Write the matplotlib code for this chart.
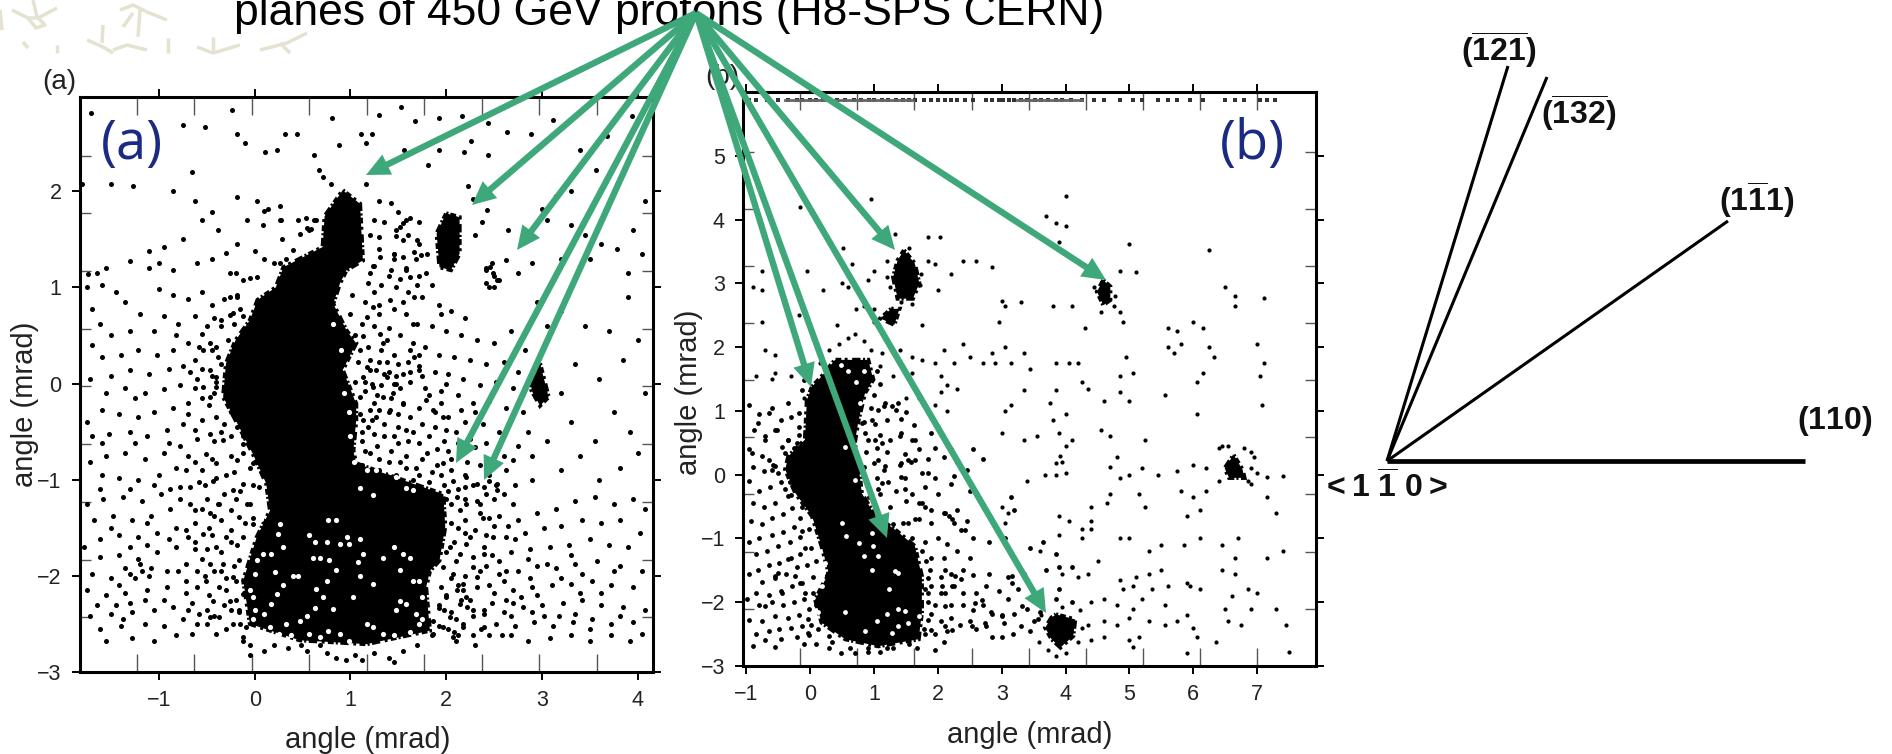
import matplotlib
matplotlib.use('Agg')
import matplotlib.pyplot as plt
import numpy as np

plt.rcParams['font.family'] = ['Liberation Sans', 'DejaVu Sans']
plt.rcParams['mathtext.fontset'] = 'custom'
plt.rcParams['mathtext.rm'] = 'Liberation Sans:bold'
plt.rcParams['mathtext.bf'] = 'Liberation Sans:bold'

W, H = 1892, 754

# ---- panel (a), angles in mrad ----
a_blob_main = [(0.92,2.01),(1.1,1.87),(1.13,1.28),(0.96,1.18),(0.89,1.04),(0.82,0.83),(0.96,0.55),(1.06,0.42),(0.92,0.14),(1.06,-0.21),
               (1.06,-0.38),(1.03,-0.7),(1.06,-0.83),(1.65,-1.04),(1.97,-1.15),(1.99,-1.49),(1.93,-1.84),(1.83,-1.95),(1.79,-2.12),(1.83,-2.57),
               (1.17,-2.71),(0.47,-2.67),(-0.05,-2.5),(-0.12,-2.05),(0.02,-1.6),(0.16,-1.32),(0.12,-1.04),(-0.02,-0.73),(-0.2,-0.38),(-0.33,-0.14),
               (-0.3,0.21),(-0.2,0.45),(-0.05,0.66),(0.03,0.87),(0.22,1.0),(0.3,1.21),(0.71,1.42),(0.73,1.74)]
a_blob_2 = [(2.0,1.77),(2.14,1.73),(2.14,1.35),(2.05,1.18),(1.93,1.21),(1.9,1.56)]
a_blob_3 = [(2.98,0.21),(3.07,-0.14),(2.98,-0.23),(2.89,-0.07),(2.9,0.07)]
a_holes = [(0.07,-1.41),(0.24,-1.56),(0.26,-1.46),(0.57,-1.58),(0.63,-1.65),(0.77,-1.42),(0.85,-1.42),(0.75,-1.65),(0.89,-1.67),(0.99,-1.67),
           (1.1,-1.62),(1.13,-1.77),(1.08,-1.86),(1.1,-2.0),(1.45,-1.7),(1.34,-1.81),(1.55,-1.77),(1.62,-1.81),(0.78,-1.84),(0.85,-1.94),(0.4,-2.0),
           (0.45,-2.0),(0.64,-2.14),(0.3,-2.1),(0.23,-2.19),(0.17,-2.29),(0.0,-1.98),(0.21,-1.96),(0.63,-2.33),(0.82,-2.34),(0.75,-2.05),(1.24,-2.08),
           (1.03,-2.22),(1.52,-1.94),(1.65,-2.05),(0.71,-2.22),(1.52,-2.26),(1.48,-2.36),(1.58,-2.29),(0.77,-2.57),(0.89,-2.6),(0.33,-2.5),(0.16,-2.53),
           (1.17,-2.5),(1.24,-2.53),(1.34,-2.6),(0.57,-2.6),(0.68,-2.64),(0.47,-2.47),(0.02,-1.84),(-0.05,-2.15),(-0.02,-2.22),(0.17,-1.77),(0.09,-1.77),
           (0.3,-1.7),(0.0,-2.36),(0.96,-1.6),(0.61,-1.81),(0.68,-1.81),(1.17,-0.9),(1.27,-0.9),(1.41,-0.92),(1.58,-1.09),(1.65,-1.11),(1.1,-1.09),
           (1.04,-0.82),(1.24,-1.16),(1.48,-0.97),(1.68,-2.4),(1.75,-2.22),(1.72,-2.5),(0.98,-2.68),(1.45,-2.62),(0.1,-2.4),(0.25,-2.6),(-0.02,-2.45),
           (1.0,-0.55),(0.98,-0.3),(1.0,0.1),(0.9,0.35),(0.82,0.62),(0.93,-0.1),(1.75,-2.45),(1.62,-2.58),(0.55,-2.42),(0.38,-2.62),(1.72,-2.05)]
a_top = [(-1.71,2.81),(-1.5,2.08),(-1.8,2.08),(-1.27,2.05),(-0.75,2.69),(-0.52,2.67),(-0.24,2.85),(-0.19,2.6),(-0.1,2.5),
         (0.11,2.41),(0.23,2.43),(0.32,2.6),(0.44,2.6),(0.62,2.38),(0.67,2.22),(0.81,2.76),(1.11,2.6),(1.23,2.6),(1.16,2.5),
         (0.88,2.48),(1.3,2.79),(1.53,2.88),(1.67,2.73),(1.93,2.76),(2.16,2.78),(2.44,2.71),(2.63,2.62),(2.89,2.6),(3.12,2.74),
         (3.4,2.43),(3.56,2.22),(3.68,2.57),(3.94,2.78),(2.44,2.38),(2.19,2.41),(2.26,2.52),(1.81,2.27),(1.93,2.43),(1.56,2.43),
         (0.71,2.15),(0.8,2.08),(1.16,2.08),(-0.65,2.2),(-0.85,2.0),(-0.62,1.9),(-0.18,1.94),(0.02,1.9),(0.14,1.82),(0.26,1.85),
         (-0.45,1.78),(-0.55,1.7),(-0.38,1.6),(-0.08,1.7),(0.09,1.65),(0.27,1.7),(0.45,1.7),(0.55,1.62),(0.62,1.7),(0.28,1.5),
         (-0.75,1.5),(-0.95,1.42),(-1.1,1.38),(-1.3,1.27),(-1.55,1.2),(-1.65,1.15),(-1.74,1.14),(-1.1,1.2),(-1.0,1.25),(-0.85,1.18),
         (-0.6,1.25),(-0.45,1.3),(-0.3,1.36),(-0.18,1.45),(0.0,1.38),(0.1,1.3),(0.2,1.25),(-0.2,1.15),(-0.05,1.1),
         (1.3,1.9),(1.42,1.88),(1.5,1.78),(1.62,1.72),(1.72,1.68),(1.25,1.7),(1.35,1.68),(1.48,1.6),(1.6,1.55),(1.72,1.45),(1.3,1.4),
         (1.45,1.35),(1.55,1.32),(1.68,1.3),(1.8,1.35),(2.3,1.55),(2.37,1.68),(2.43,1.8),(2.28,1.92),(2.23,2.05),(2.65,1.6),(2.85,1.5),
         (3.0,1.82),(3.15,1.95),(3.3,1.65),(3.45,1.55),(3.62,1.45),(3.78,1.4),(3.95,1.6),(4.05,1.35),(3.3,2.0),(3.05,1.7),(2.9,1.25),
         (2.75,1.15),(3.2,1.3),(3.5,1.3),(3.9,1.15),(4.08,1.9),(2.62,1.28),(2.48,1.25),(2.42,1.18),(2.5,1.12),(2.42,1.05),(2.5,1.0),(2.45,1.0),(2.55,1.08)]
a_left = [(-1.75,1.0),(-1.6,1.02),(-1.45,0.95),(-1.35,0.85),(-1.7,0.78),(-1.2,0.72),(-1.0,0.98),(-0.85,0.92),(-0.7,0.88),(-0.55,0.95),
          (-0.45,0.82),(-0.32,0.88),(-0.15,0.78),(-0.22,0.62),(-0.35,0.6),(-0.5,0.6),(-0.62,0.7),(-0.8,0.62),(-1.05,0.55),(-1.3,0.55),
          (-1.5,0.5),(-1.7,0.4),(-1.6,0.28),(-1.4,0.3),(-1.22,0.35),(-1.02,0.3),(-0.85,0.35),(-0.7,0.42),(-0.58,0.38),(-0.45,0.35),(-0.38,0.28),
          (-0.62,0.25),(-0.75,0.18),(-0.9,0.15),(-1.1,0.1),(-1.3,0.14),(-1.5,0.08),(-1.72,0.05),(-1.55,-0.1),(-1.35,-0.05),(-1.15,-0.1),(-0.95,-0.06),
          (-0.78,-0.02),(-0.6,0.05),(-0.45,0.08),(-0.42,-0.1),(-0.55,-0.15),(-0.7,-0.2),(-0.85,-0.25),(-1.05,-0.3),(-1.22,-0.35),(-1.42,-0.32),(-1.6,-0.28),
          (-1.75,-0.4),(-1.7,-0.55),(-1.52,-0.52),(-1.3,-0.5),(-1.12,-0.55),(-0.92,-0.48),(-0.75,-0.42),(-0.55,-0.38),(-0.4,-0.35),(-0.32,-0.42),(-0.25,-0.55),
          (-0.42,-0.6),(-0.6,-0.58),(-0.78,-0.65),(-0.95,-0.72),(-1.15,-0.78),(-1.35,-0.72),(-1.55,-0.75),(-1.72,-0.82),(-1.6,-0.95),(-1.42,-0.98),(-1.22,-1.0),
          (-1.0,-0.95),(-0.82,-0.88),(-0.62,-0.82),(-0.45,-0.78),(-0.25,-0.75),(-0.12,-0.72),(-0.05,-0.88),(-0.22,-0.92),(-0.4,-0.98),(-0.58,-1.02),(-0.78,-1.08),
          (-0.98,-1.15),(-1.18,-1.22),(-1.38,-1.18),(-1.58,-1.2),(-1.75,-1.25),(-1.68,-1.42),(-1.48,-1.38),(-1.28,-1.42),(-1.08,-1.38),(-0.88,-1.3),(-0.68,-1.25),
          (-0.5,-1.2),(-0.32,-1.15),(-0.15,-1.12),(-0.02,-1.05),(-0.08,-1.25),(-0.25,-1.32),(-0.42,-1.38),(-0.62,-1.45),(-0.82,-1.5),(-1.02,-1.55),(-1.22,-1.6),
          (-1.42,-1.58),(-1.62,-1.62),(-1.78,-1.7),(-1.62,-1.8),(-1.42,-1.78),(-1.22,-1.82),(-1.02,-1.75),(-0.82,-1.7),(-0.62,-1.65),(-0.45,-1.58),(-0.25,-1.52),
          (-0.1,-1.45),(-0.02,-1.4),(-0.18,-1.68),(-0.35,-1.75),(-0.55,-1.82),(-0.72,-1.88),(-0.92,-1.95),(-1.1,-2.0),(-1.18,-1.95),(-1.3,-1.98),(-1.5,-2.02),(-1.7,-1.98),
          (-1.75,-2.15),(-1.55,-2.2),(-1.35,-2.18),(-1.12,-2.15),(-0.92,-2.12),(-0.72,-2.05),(-0.52,-2.0),(-0.35,-1.95),(-0.22,-1.9),(-0.2,-2.05),(-0.3,-2.15),
          (-0.48,-2.2),(-0.65,-2.28),(-0.85,-2.32),(-1.05,-2.35),(-1.28,-2.38),(-1.5,-2.4),(-1.72,-2.42),(-1.62,-2.55),(-1.4,-2.52),(-1.15,-2.5),(-0.95,-2.52),
          (-0.75,-2.45),(-0.58,-2.4),(-0.42,-2.42),(-0.25,-2.35),(-0.15,-2.5),(-0.3,-2.55),(-0.12,-2.68),(-0.05,-2.72),(0.1,-2.78),(-1.55,-2.68),(-1.28,-2.65),(-1.05,-2.68),
          (-0.65,-2.6),(-0.2,-2.25),(-0.16,-2.38),(-0.38,-1.25),(-0.52,-1.05),(-0.18,-0.45),(-0.12,-0.55),(-0.48,-0.22),(-0.4,0.02),(-0.55,0.15),(-0.28,0.45),(-0.12,0.7),
          (-0.02,0.65),(-0.18,0.9),(-0.7,-0.75),(-1.25,-0.15),(-1.62,0.62),(-0.95,0.7)]
a_left_2 = [(-0.47,-0.52),(-0.51,-0.73),(-0.33,-0.59),(-0.12,-0.63),(-0.02,-0.83),(-0.19,-0.8),(-0.4,-0.83),(-0.12,-1.04),(0.05,-1.08),(-0.23,-1.11),(-0.44,-1.01),(-0.05,-1.25),
            (-0.37,-1.25),(-0.16,-1.39),(-0.02,-1.46),(-0.47,-1.35),(-0.3,-1.6),(-0.12,-1.6),(-0.4,-1.7),(-0.54,-1.56),(-0.33,-1.88),(-0.16,-1.84),(-0.47,-1.88),(-0.23,-2.01),(-0.37,-2.12),
            (-0.12,-2.19),(-0.51,-2.05),(-0.26,-2.26),(-0.44,-2.26),(-0.16,-2.36),(-0.37,-2.43),(-0.23,-2.5),(-0.47,-2.43),(-0.09,-2.53),(-0.12,-2.64),(-0.4,-2.6),
            (-0.26,1.15),(-0.12,1.08),(0.02,1.11),(-0.18,0.92),(-0.26,0.9),(-0.26,0.71),(-0.35,0.66),(-0.23,0.73),(-0.47,0.42),(-0.54,0.35),(-0.4,0.38),(-0.23,0.35),(-0.47,0.14),(-0.4,0.07),(-0.54,-0.04),
            (-0.47,-0.14),(-0.4,-0.04),(0.54,1.72),(0.64,1.7),(0.59,1.61),(0.26,1.7),(0.1,1.79),(0.47,1.56),(0.57,1.6),(0.4,1.39),(0.26,1.25),(0.33,1.3),
            (-0.72,-1.52),(-0.9,-1.62),(-1.12,-1.68),(-1.35,-1.92),(-1.25,-2.02),(-1.2,-1.88),(-1.42,-2.1),(-1.08,-1.92),(-0.78,-1.2),(-1.05,-1.05),(-1.3,-1.1),(-0.72,-2.18),(-0.95,-2.25),(-0.6,-2.5),(-0.82,-2.62),
            (-0.62,-1.32),(-0.48,-1.5),(-0.62,-1.72),(-0.8,-1.95),(-0.6,-2.12),(-0.7,-0.32),(-0.9,-0.62),(-0.62,-0.48),(-1.25,-0.62),(-1.6,-0.62),(-1.62,-1.1),(-1.5,-1.5),(-1.65,-2.3),(-1.3,-2.28),
            (-0.55,-0.9),(-0.3,-0.95),(-0.68,-1.08),(-0.2,-1.2),(-0.55,-1.3),(-0.35,-1.42),(-0.7,-1.6),(-0.5,-1.72),(-0.25,-1.65),(-0.42,-1.95),(-0.6,-1.95),(-0.3,-2.02),(-0.5,-2.35),(-0.32,-2.3),(-0.7,-2.35),(-0.5,-2.5),
            (-0.72,-0.9),(-0.88,-1.1),(-1.12,-1.45),(-1.3,-1.7),(-1.15,-2.25),(-1.38,-2.45),(-0.25,-0.3),(-0.35,-0.5),(-0.62,-0.05),(-0.68,0.12),(-0.35,0.2),(-0.28,0.05),(-0.82,0.5),(-0.55,0.52),(-0.42,0.68),(-1.45,-2.3)]
a_mid = [(1.2,1.55),(1.3,1.52),(1.25,1.22),(1.42,1.18),(1.58,1.2),(1.72,1.12),(1.85,1.02),(1.18,1.05),(1.32,1.02),(1.48,1.0),(1.6,0.95),(1.75,0.9),(1.92,0.82),
       (2.05,0.75),(2.2,0.68),(1.02,0.92),(1.15,0.85),(1.3,0.82),(1.45,0.78),(1.58,0.72),(1.7,0.62),(1.85,0.6),(2.0,0.55),(2.15,0.5),(2.32,0.45),(2.5,0.42),(2.68,0.55),
       (2.82,0.35),(1.0,0.72),(1.12,0.62),(1.25,0.6),(1.4,0.58),(1.52,0.5),(1.65,0.42),(1.78,0.38),(1.92,0.3),(2.08,0.28),(2.25,0.25),(2.42,0.2),(2.6,0.22),(2.75,0.12),
       (1.05,0.5),(1.18,0.38),(1.32,0.35),(1.45,0.3),(1.6,0.22),(1.72,0.18),(1.88,0.12),(2.02,0.1),(2.18,0.05),(2.35,-0.02),(2.52,0.02),(2.7,-0.05),(1.08,0.22),(1.2,0.14),
       (1.35,0.1),(1.48,0.08),(1.62,0.02),(1.78,-0.05),(1.95,-0.08),(2.12,-0.12),(2.28,-0.2),(2.45,-0.18),(2.62,-0.25),(2.8,-0.3),(1.05,0.02),(1.15,-0.08),(1.28,-0.12),(1.42,-0.15),
       (1.55,-0.2),(1.72,-0.25),(1.88,-0.3),(2.02,-0.35),(2.2,-0.4),(2.38,-0.42),(2.55,-0.5),(1.1,-0.32),(1.22,-0.38),(1.35,-0.42),(1.5,-0.45),(1.65,-0.5),(1.82,-0.55),(1.98,-0.6),
       (2.12,-0.62),(2.3,-0.66),(1.12,-0.6),(1.28,-0.65),(1.42,-0.7),(1.58,-0.75),(1.75,-0.78),(1.9,-0.85),(2.05,-0.9),(2.2,-0.95),(1.12,-0.85),(1.3,-0.9),(1.48,-0.95),(1.65,-1.0),
       (1.82,-1.02),(1.98,-1.05),(2.12,-1.1),(2.05,-0.78),(2.22,-0.82),(1.3,0.72),(1.55,0.85),(1.38,0.45),(1.22,0.0),(1.4,-0.3),(1.62,-0.35),(1.5,0.2),(1.25,-0.2),(1.35,-0.55),(1.72,0.3),(2.0,0.0),(1.18,-0.45),
       (1.4,0.12),(1.45,0.0),(1.32,-0.02),(1.52,-0.05),(1.62,0.12),(1.2,-0.72),(1.4,-0.82),(1.58,-0.88),(2.35,-0.85),(2.45,-0.95),(2.4,-1.08),(2.52,-1.05),(2.28,-1.05)]
a_mid_2 = [(1.55,1.67),(1.585,1.7),(1.52,1.63),(1.48,1.53),(1.55,1.49),(1.69,1.49),(1.66,1.37),(1.74,1.34),(1.46,1.3),(1.45,1.35),(1.31,1.32),(1.24,1.22),(1.2,1.15),(1.58,1.18),(1.62,1.11),(1.79,1.15),(1.52,1.09),
           (1.17,0.17),(1.27,0.14),(1.38,0.07),(1.48,0.0),(1.13,0.07),(1.24,-0.04),(1.34,-0.14),(1.44,-0.1),(1.55,-0.21),(1.1,-0.14),(1.2,-0.28),(1.27,-0.35),(1.41,-0.28),(1.13,-0.38),(1.72,0.14),(1.79,-0.17),(1.86,-0.28),(1.97,-0.35),
           (1.66,0.28),(1.62,0.35),(1.34,0.42),(1.31,0.52),(1.13,0.49),(1.1,0.35),(1.24,0.8),(1.41,0.87),(1.17,0.69),(1.66,0.9),(2.46,1.21),(2.49,1.15),(2.42,1.2),(2.53,1.08),
           (1.3,-0.28),(1.5,-0.32),(1.6,-0.6),(1.72,-0.62),(1.5,-0.62),(1.3,-0.78),(1.68,-0.88),(1.85,-0.92),(1.9,-0.68),(2.1,-0.5),(2.25,-0.58),(2.42,-0.62),(2.5,-0.75),(2.62,-0.9),(2.7,-0.8),(2.15,-0.28),(2.3,-0.3),(1.95,-0.2),(1.82,-0.12),
           (1.2,0.25),(1.38,0.22),(1.55,0.1),(1.75,0.08),(1.25,-0.52),(1.15,-0.7),(1.1,-0.95),(1.22,-1.02),(1.42,-1.05),(1.75,-1.1),(1.85,-1.15),(2.02,-1.12),(2.2,-1.08),(2.6,-1.15),(2.72,-1.05),
           (1.75,-0.42),(1.88,-0.45),(2.0,-0.48),(1.58,-0.48),(1.45,-0.55),(1.8,-0.72),(2.02,-0.7),(2.15,-0.72),(1.95,-0.95),(1.72,-0.95),(1.52,-0.82),(1.25,-0.92),(1.12,-0.5),(1.15,0.02),(1.3,0.22),(1.65,0.62),(1.95,0.72),(1.25,0.95),(1.4,1.12),(1.7,1.02)]
a_right = [(2.05,-1.25),(2.2,-1.2),(2.35,-1.25),(2.5,-1.2),(2.7,-1.25),(2.05,-1.45),(2.2,-1.42),(2.38,-1.4),(2.55,-1.38),(2.75,-1.42),(2.95,-1.35),(3.15,-1.3),(3.35,-1.22),(3.55,-1.18),(3.75,-1.25),(3.95,-1.2),
         (4.08,-1.3),(2.08,-1.65),(2.25,-1.6),(2.42,-1.58),(2.62,-1.6),(2.82,-1.55),(3.02,-1.5),(3.2,-1.48),(3.42,-1.42),(3.62,-1.45),(3.82,-1.42),(4.02,-1.55),(2.1,-1.85),(2.28,-1.8),(2.48,-1.78),(2.68,-1.75),
         (2.88,-1.72),(3.08,-1.7),(3.28,-1.68),(3.5,-1.62),(3.7,-1.68),(3.9,-1.7),(2.05,-2.02),(2.2,-2.0),(2.35,-1.95),(2.55,-1.98),(2.75,-1.95),(2.95,-1.9),(3.15,-1.92),(3.35,-1.88),(3.58,-1.85),(3.82,-1.9),(4.05,-1.95),
         (2.0,-2.2),(2.18,-2.15),(2.32,-2.12),(2.5,-2.18),(2.7,-2.15),(2.9,-2.12),(3.1,-2.1),(3.3,-2.08),(3.52,-2.05),(3.72,-2.1),(3.95,-2.12),(2.05,-2.38),(2.22,-2.32),(2.4,-2.35),(2.6,-2.38),(2.8,-2.32),(3.0,-2.3),
         (3.22,-2.28),(3.42,-2.25),(3.62,-2.3),(3.85,-2.32),(4.08,-2.35),(2.02,-2.55),(2.18,-2.5),(2.36,-2.55),(2.52,-2.5),(2.72,-2.52),(2.92,-2.48),(3.12,-2.52),(3.32,-2.48),(3.52,-2.45),(3.72,-2.5),(3.95,-2.48),
         (2.1,-2.68),(2.3,-2.72),(2.68,-2.62),(2.85,-2.68),(3.08,-2.65),(3.3,-2.62),(3.5,-2.68),(3.72,-2.62),(3.92,-2.68),(4.05,-2.6),(3.2,-0.9),(3.4,-0.75),(3.6,-1.0),(3.82,-0.88),(4.0,-0.72),(2.9,-1.0),(3.05,-0.6),
         (3.3,-0.4),(3.55,-0.6),(3.75,-0.3),(3.92,-0.5),(4.08,-0.1),(3.2,-0.1),(3.35,0.2),(3.6,0.05),(3.85,0.25),(4.0,0.45),(3.45,0.6),(3.7,0.55),(3.2,0.75),(3.05,0.6),(2.95,0.85),(3.9,0.9),(2.6,-0.75),(2.75,-0.65),
         (2.85,-0.5),(2.9,-0.75),(2.2,-1.55),(2.12,-2.1),(2.25,-2.25),(2.1,-2.45),(1.98,-2.35),(2.08,-2.58),(2.28,-2.42),(2.15,-2.25),(2.0,-1.75),(2.4,-1.7),(2.62,-2.25),(3.35,-2.4),(3.82,-2.42)]
a_right_2 = [(2.0,-1.2),(2.11,-1.18),(2.21,-1.25),(2.32,-1.22),(2.42,-1.15),(2.53,-1.11),(2.14,-1.32),(2.35,-1.35),(2.07,-1.01),(2.21,-0.97),(1.97,-0.83),(2.32,-1.04),(2.45,-1.01),(2.53,-1.04),
             (2.04,-1.7),(2.14,-1.77),(2.21,-1.67),(2.28,-1.91),(2.39,-1.77),(2.49,-1.6),(1.97,-1.91),(2.07,-1.98),(2.18,-2.08),(2.32,-2.01),(2.11,-2.15),(2.21,-2.22),(2.0,-2.22),(1.93,-2.33),(2.14,-2.29),(2.28,-2.36),(2.39,-2.4),
             (2.04,-2.43),(1.86,-2.47),(1.97,-2.53),(2.18,-2.53),(2.39,-2.53),(1.86,-2.6),(2.07,-2.64),(2.45,-2.1),(2.6,-2.05),(2.78,-2.22),(2.45,-1.4),(2.65,-1.48),(2.85,-1.82),(3.05,-1.88),(2.95,-2.2),(3.2,-2.02),(3.4,-2.18),(2.68,-2.42),(3.18,-2.42),(3.5,-2.55),
             (2.12,-1.5),(2.3,-1.52),(2.5,-1.48),(2.72,-1.62),(2.55,-1.85),(2.42,-1.9),(2.62,-1.95),(2.88,-2.02),(2.48,-2.28),(2.7,-2.28),(2.9,-2.38),(2.12,-2.62),(2.28,-2.62),(2.45,-2.62),(2.58,-2.62),(3.02,-2.42),(3.42,-1.98),(3.3,-1.78),(3.75,-1.95),(3.62,-2.18)]
a_bottom = [(0.35,-2.75),(0.55,-2.78),(0.75,-2.8),(0.85,-2.85),(1.05,-2.82),(1.25,-2.8),(1.4,-2.85),(1.55,-2.78),(1.7,-2.72),(1.85,-2.62),(1.92,-2.52),(0.2,-2.72),(-0.05,-2.82),(0.95,-2.88),
            (1.45,-2.9),(1.12,-2.88),(1.78,-2.55),(1.92,-2.3),(1.95,-2.12),(0.48,-2.72),(0.68,-2.72)]

# ---- panel (b) ----
b_blob_main = [(0.03,1.38),(0.18,1.54),(0.39,1.8),(0.91,1.8),(0.99,1.49),(0.86,1.28),(0.76,0.86),(0.7,0.5),(0.76,0.13),(0.81,-0.29),(1.02,-0.65),(1.33,-0.86),(1.64,-1.12),(1.75,-1.59),
               (1.75,-2.16),(1.7,-2.58),(1.07,-2.69),(0.55,-2.58),(0.18,-2.32),(0.08,-1.96),(0.29,-1.54),(0.18,-1.12),(0.03,-0.65),(-0.23,-0.29),(-0.39,0.08),(-0.34,0.29),(-0.08,0.55),(-0.05,1.17)]
b_blob_1 = [(1.47,3.52),(1.64,3.31),(1.71,3.0),(1.61,2.76),(1.37,2.76),(1.3,3.1),(1.37,3.36)]
b_blob_tail = [(1.27,2.6),(1.1,2.45),(1.32,2.35),(1.4,2.6)]
b_blob_2 = [(4.59,3.05),(4.7,2.95),(4.7,2.74),(4.59,2.66),(4.49,2.87)]
b_blob_3 = [(3.85,-2.19),(4.15,-2.27),(4.12,-2.53),(3.92,-2.71),(3.78,-2.58),(3.68,-2.4),(3.78,-2.24)]
b_blob_4 = [(6.63,0.31),(6.77,0.08),(6.8,-0.05),(6.56,-0.05),(6.49,0.1)]
b_holes = [(0.7,-0.08),(0.55,0.44),(0.78,1.12),(0.5,-0.76),(0.57,-0.96),(0.76,-1.07),(0.97,-0.91),(0.99,-1.12),(0.84,-1.28),(1.07,-1.28),(1.33,-1.51),(1.38,-1.54),(0.97,-1.49),(1.23,-1.8),(0.18,-1.59),(0.18,-1.75),(0.24,-1.38),
           (1.38,-2.11),(1.49,-2.14),(1.2,-2.19),(1.04,-2.29),(1.54,-2.32),(1.7,-2.22),(0.55,-2.16),(1.38,-2.37),(0.13,-2.16),(0.86,-2.45),(1.28,-2.48),(0.72,1.45),(0.6,1.62),(0.85,1.62),(0.48,1.72)]
b_top_row = [-0.95,-0.85,-0.68,-0.5,-0.35,-0.2,-0.12,0.0,0.1,0.2,0.3,0.42,0.55,0.68,0.8,0.92,1.0,1.12,1.22,1.34,1.46,1.55,1.65,1.78,1.9,2.0,2.12,2.2,2.3,2.42,2.55,2.75,2.85,2.95,3.02,3.12,3.2,3.3,3.4,3.52,3.62,3.72,3.85,
             3.95,4.08,4.25,4.45,4.6,4.85,5.05,5.2,5.45,5.6,5.75,5.95,6.15,6.5,6.65,6.8,7.05,7.15,7.28]
b_top_bars = [(-0.39, 1.61), (3.24, 4.25)]
b_far = [(2.85,3.25),(4.0,3.9),(3.9,3.65),(3.7,4.05),(3.85,3.95),(4.0,4.37),(-0.15,4.2),(0.72,4.23),(0.95,4.32),(1.33,3.77),(1.85,3.73),(2.03,3.72),(5.0,3.62),(6.25,3.53),(3.8,2.65),(3.0,2.72),(2.0,2.9),(2.4,3.35),(2.6,3.35),
         (2.2,3.15),(4.85,3.2),(5.1,3.18),(5.6,2.3),(5.75,2.25),(5.8,2.05),(6.0,2.4),(6.15,2.3),(6.5,2.95),(6.65,2.8),(6.65,2.65),(7.1,2.77),(5.6,2.0),(5.7,1.9),(6.25,2.0),(6.32,1.85),(7.0,2.05),(6.15,1.6),(7.1,1.75),(7.05,1.55),
         (6.05,1.45),(7.08,1.1),(4.85,2.55),(4.55,2.55),(4.9,2.4),(4.3,2.3),(4.1,2.65),(3.05,2.65),(3.3,2.7),(2.95,2.4),(3.05,2.0),(3.35,1.9),(2.1,1.95),(2.4,2.05),(2.85,1.9),(2.9,1.75),(3.45,1.65),(3.85,1.75),(4.05,1.75),(4.2,1.75),
         (4.85,1.55),(4.95,1.85),(5.05,1.6),(4.25,1.45),(4.35,1.35),(4.85,1.3),(3.35,1.33),(3.85,1.33),(2.25,1.75),(2.5,1.85),(2.7,1.75),(3.15,1.75),
         (-0.75,3.2),(-0.9,2.95),(-0.75,2.9),(-0.3,3.1),(-0.05,3.2),(0.2,2.9),(0.5,3.0),(0.6,2.95),(0.9,3.05),(1.0,3.2),(1.2,3.35),(1.85,3.35),(1.95,3.3),(0.65,3.3),(0.52,3.55),(0.72,2.6),(0.85,2.65),(1.0,2.6),(1.75,2.35),(0.42,2.35),(-0.18,2.5),
         (-0.75,2.4),(1.0,2.4),(1.4,1.95),(1.6,1.85),(1.75,1.8),(1.95,1.75),(2.05,1.55),(2.15,1.4),(1.6,1.6),(1.3,1.55),(1.1,1.7),(-0.7,1.95),(-0.55,1.88),(-0.55,1.6),(-0.6,1.5),(-0.85,1.55),(-0.3,1.55),(-0.1,1.2),(1.5,1.2),(1.7,1.2),(1.95,1.1),(2.15,1.0),
         (2.3,1.35),(2.05,1.3),(4.0,0.95),(4.6,1.15),(5.0,1.15),(5.55,1.25),(6.05,0.95),(3.05,1.0),(3.15,1.1),(3.75,1.12),(3.8,0.85),(3.9,0.65),(4.1,0.55),(4.55,0.7),(4.7,0.6),(5.25,0.55),(3.35,0.55),(3.0,0.65),(3.55,0.6),(4.0,0.45),
         (1.72,2.98),(1.74,3.15),(1.25,2.95),(1.2,3.1),(1.42,2.7),(1.6,2.68),(1.55,3.55),(4.44,2.95),(4.78,2.8),(4.75,2.65),(6.4,0.42),(6.95,0.28),(6.4,-0.1),(6.85,-0.1),(6.9,0.1),(0.45,2.05),(0.6,2.15),(0.7,2.2),(0.85,2.1),(0.95,1.95),(1.12,1.9),(0.3,1.95),(0.15,1.75)]
b_mid = [(-0.95,1.1),(-0.8,0.95),(-0.6,1.05),(-0.45,0.85),(-0.3,0.9),(-0.18,0.75),(-0.88,0.7),(-0.7,0.6),(-0.52,0.7),(-0.35,0.55),(-0.2,0.5),(-0.95,0.4),(-0.75,0.3),(-0.58,0.15),(-0.72,0.05),(-0.9,0.12),(-0.95,-0.1),(-0.8,-0.25),(-0.62,-0.2),(-0.45,-0.12),
         (-0.3,-0.32),(-0.55,-0.45),(-0.72,-0.5),(-0.9,-0.45),(-0.92,-0.72),(-0.75,-0.78),(-0.6,-0.68),(-0.42,-0.62),(-0.28,-0.52),(-0.15,-0.68),(-0.25,-0.82),(-0.42,-0.9),(-0.6,-0.95),(-0.8,-1.0),(-0.95,-1.05),(-0.85,-1.25),(-0.68,-1.2),(-0.5,-1.12),(-0.32,-1.05),
         (-0.15,-0.98),(-0.02,-0.85),(0.02,-1.15),(-0.15,-1.25),(-0.3,-1.3),(-0.48,-1.38),(-0.65,-1.42),(-0.82,-1.5),(-0.95,-1.55),(-0.75,-1.68),(-0.55,-1.62),(-0.38,-1.55),(-0.2,-1.45),(-0.05,-1.42),(0.1,-1.35),(0.05,-1.6),(-0.12,-1.7),(-0.28,-1.75),(-0.45,-1.82),
         (-0.65,-1.88),(-0.85,-1.85),(-0.98,-1.95),(-0.8,-2.05),(-0.6,-2.0),(-0.42,-2.05),(-0.25,-2.0),(-0.1,-1.95),(-0.02,-2.1),(-0.18,-2.2),(-0.35,-2.25),(-0.55,-2.22),(-0.75,-2.3),(-0.95,-2.28),(-0.85,-2.5),(-0.65,-2.45),(-0.48,-2.42),(-0.3,-2.4),(-0.12,-2.38),(0.02,-2.35),(-0.02,-2.52),
         (-0.2,-2.55),(-0.45,-2.58),(-0.7,-2.6),(-0.9,-2.68),(-0.55,-2.7),(-0.1,-2.65),(0.1,-2.65),(0.3,-2.72),(0.48,-2.8),(0.7,-2.8),(0.9,-2.72),(1.1,-2.78),(1.3,-2.72),(1.55,-2.65),(1.68,-2.72),(1.95,-2.75),(2.1,-2.62),(1.8,-2.5),(1.95,-2.5),(2.15,-2.45),(1.85,-2.28),(2.05,-2.3),(2.2,-2.25),
         (2.35,-2.35),(2.5,-2.3),(2.6,-2.42),(2.75,-2.38),(2.85,-2.55),(3.0,-2.55),(3.18,-2.5),(3.3,-2.38),(3.45,-2.45),(3.5,-2.3),(3.6,-2.15),(2.55,-2.12),(2.7,-2.05),(2.85,-2.18),(3.0,-2.2),(3.2,-2.18),(3.4,-2.1),(2.4,-2.05),(2.2,-2.05),(1.95,-2.05),(1.85,-1.85),(2.05,-1.85),(2.25,-1.75),(2.4,-1.85),
         (2.6,-1.85),(2.75,-1.75),(2.95,-1.82),(3.1,-1.95),(3.25,-1.8),(3.5,-1.95),(3.85,-1.95),(3.9,-1.8),(4.1,-2.0),(1.85,-1.62),(2.05,-1.6),(2.2,-1.55),(2.4,-1.5),(2.55,-1.58),(2.8,-1.55),(3.1,-1.6),(3.35,-1.55),(3.7,-1.5),(3.9,-1.45),(4.1,-1.45),(1.75,-1.2),(1.9,-1.3),(2.1,-1.3),(2.3,-1.2),(2.5,-1.3),
         (1.6,-1.0),(1.8,-1.05),(2.0,-1.0),(2.15,-1.08),(2.55,-1.0),(2.8,-1.05),(3.05,-1.0),(3.45,-1.15),(3.65,-1.05),(3.85,-1.25),(1.3,-0.78),(1.45,-0.75),(1.7,-0.7),(1.9,-0.75),(2.1,-0.6),(2.25,-0.75),(2.45,-0.72),(2.3,-0.55),(1.9,-0.55),(1.75,-0.45),(1.5,-0.42),(1.25,-0.5),(1.0,-0.6),(0.92,-0.35),(1.1,-0.3),
         (1.35,-0.25),(1.6,-0.3),(1.8,-0.2),(2.0,-0.3),(2.2,-0.15),(2.5,-0.25),(3.15,-0.35),(3.2,-0.55),(0.88,-0.1),(1.05,-0.05),(1.22,-0.12),(1.48,-0.05),(1.75,0.02),(1.95,-0.05),(2.25,-0.02),(2.45,0.08),(2.7,0.25),(0.85,0.12),(1.0,0.18),(1.15,0.08),(1.4,0.15),(1.58,0.2),(1.85,0.25),(2.1,0.28),(2.3,0.2),
         (0.88,0.35),(1.05,0.42),(1.2,0.35),(1.48,0.32),(1.7,0.4),(1.95,0.42),(2.2,0.4),(2.55,0.4),(0.9,0.55),(1.1,0.62),(1.25,0.55),(1.4,0.6),(1.65,0.55),(1.9,0.65),(0.85,0.82),(1.02,0.8),(1.2,0.85),(1.42,0.88),(1.62,0.78),(1.9,0.92),(0.95,1.05),(1.15,1.08),(1.35,1.02),(1.5,0.98),(2.0,0.75)]
b_mid_2 = [(1.17,1.12),(1.28,1.07),(1.07,1.02),(1.38,1.12),(0.81,0.81),(0.97,0.86),(0.86,0.65),(1.02,0.55),(1.12,0.5),(1.43,0.65),(1.59,0.55),(1.54,0.23),(1.64,0.23),(1.43,0.18),(1.17,0.13),(1.07,0.23),(1.43,-0.03),(1.49,-0.23),(1.12,-0.13),(1.07,-0.23),(1.85,0.03),
           (1.7,-0.44),(1.8,-0.5),(2.17,-0.65),(2.11,-0.6),(2.22,-0.7),(2.37,-0.86),(2.43,-0.86),(1.54,-0.76),(1.64,-0.7),(2.11,-1.49),(2.27,-1.59),(2.22,-1.75),(2.11,-1.85),(2.37,-1.64),(2.06,-1.75),(1.9,-1.75),(1.8,-1.8),(2.11,-2.06),(2.58,-2.01),(2.69,-1.96),(2.84,-2.16),(3.0,-2.22),
           (3.16,-1.7),(3.16,-1.59),(3.31,-2.06),(3.57,-2.27),(2.11,-2.37),(1.9,-2.43),(2.22,-2.43),(2.53,-2.37),(2.74,-2.32),(3.03,-2.32),(-0.16,-1.7),(-0.23,-1.59),(-0.08,-1.85),(-0.34,-1.33),(-0.5,-1.54),(-0.55,-1.59),(-0.44,-1.85),(-0.03,-2.27),(-0.03,-2.48),(0.13,-2.42),(0.29,-2.53),(-0.7,-2.06),
           (-0.55,0.13),(-0.6,0.08),(-0.65,0.23),(-0.39,0.34),(-0.5,0.03),(-0.39,-0.23),(-0.34,-0.34),(-0.13,-0.5),(-0.91,0.34),(-0.7,0.55),(-0.81,0.81),(-0.55,0.7),(-0.34,1.12),(-0.18,0.97),(-0.65,0.97),(-0.34,0.55),(-0.44,0.44),
           (1.82,-1.35),(1.88,-1.5),(1.85,-2.0),(1.9,-2.18),(1.78,-2.42),(1.2,-2.72),(0.9,-2.78),(0.62,-2.72),(0.35,-2.62),(0.05,-1.85),(0.1,-2.05),(-0.08,-1.15),(-0.12,-0.88),(-0.32,-0.12),(-0.25,0.42),(-0.18,0.62),(-0.12,1.32),(-0.1,1.48),(1.05,1.62),(1.1,1.42),(1.0,1.25)]
b_far_low = [(3.85,0.18),(3.95,0.2),(3.92,0.3),(3.85,0.0),(4.0,0.02),(3.68,0.0),(3.4,-0.1),(4.7,0.12),(4.8,0.28),(5.0,0.0),(5.2,0.1),(5.45,0.0),(5.75,0.05),(6.0,0.15),(6.2,0.1),(6.45,0.45),(6.55,0.45),(6.8,0.42),(6.9,0.35),(7.0,0.02),(7.15,-0.03),(7.4,-0.02),(6.9,-0.15),
             (4.7,-0.3),(4.85,-0.05),(5.15,-0.3),(5.8,-0.25),(6.0,-0.35),(6.2,-0.25),(7.15,-0.35),(3.0,-0.5),(3.05,-0.75),(3.1,-0.6),(4.4,-0.5),(4.4,-0.72),(4.25,-0.85),(3.9,-0.65),(4.05,-0.72),(4.65,-0.45),(5.25,-0.5),(5.9,-0.65),(6.1,-0.55),(7.3,-0.6),(3.6,-1.2),(3.9,-0.95),(4.4,-0.85),
             (4.25,-1.0),(5.0,-1.0),(5.3,-1.2),(5.5,-1.1),(5.85,-1.1),(6.1,-1.0),(6.45,-1.1),(6.7,-1.0),(6.65,-1.3),(7.15,-1.3),(7.4,-1.2),(4.85,-1.0),(4.5,-1.35),(4.35,-1.55),(3.95,-1.55),(4.2,-1.6),(4.85,-1.65),(5.1,-1.6),(5.3,-1.55),(5.5,-1.5),(5.95,-1.75),(6.45,-1.5),(6.65,-1.55),
             (4.9,-1.8),(5.05,-1.75),(5.35,-1.8),(5.6,-1.75),(5.9,-1.7),(6.1,-1.8),(6.6,-1.9),(6.85,-1.8),(7.0,-1.85),(4.4,-2.0),(4.6,-1.95),(4.8,-2.05),(5.05,-2.1),(5.2,-1.95),(5.55,-2.05),(5.9,-2.2),(6.0,-2.4),(6.5,-2.1),(6.9,-2.1),(7.3,-2.1),(4.35,-2.35),(4.6,-2.3),(4.8,-2.35),(5.0,-2.25),
             (5.3,-2.3),(5.55,-2.35),(5.75,-2.3),(6.55,-2.3),(6.75,-2.35),(7.45,-2.35),(4.4,-2.6),(4.6,-2.55),(5.0,-2.6),(5.15,-2.55),(6.05,-2.55),(6.35,-2.62),(5.05,-2.7),(5.9,-2.8),(7.5,-2.78),
             (3.58,-2.62),(3.62,-2.2),(4.22,-2.12),(4.25,-2.4),(4.2,-2.62),(3.95,-2.08),(3.72,-2.75),(4.0,-2.8),(3.85,-2.85)]

# inner tick sets of the scanned frames
a_inner_x = [-1.23, -0.63, -0.03, 0.57, 1.17, 1.77, 2.37, 2.97, 3.57]
a_inner_y = [2.37, 1.77, 1.17, 0.57, -0.03, -0.63, -1.23, -1.83, -2.43]
b_inner_x = [-0.157, 0.738, 1.633, 2.528, 3.423, 4.318, 5.213, 6.108, 7.003]
b_inner_y = [5.06, 4.165, 3.27, 2.375, 1.48, 0.585, -0.31, -1.205, -2.1]

# ---- things laid over the figure, in picture pixels ----
arrow_from = (696, 13)
arrow_tips = [(366,175),(472,205),(517,250),(456,463),(484,480),
              (1106,280),(895,250),(811,387),(887,538),(1046,613)]
plane_origin = (1387, 461)
plane_ends = [(1805,461),(1508,66),(1547,77),(1728,221)]
plane_widths = [3.4,2.2,2.2,2.2]
plane_labels = [(r'$\mathbf{(\overline{1}\overline{2}\overline{1})}$',1499,50),
                (r'$\mathbf{(\overline{1}\overline{3}\overline{2})}$',1579,113),
                (r'$\mathbf{(1\overline{1}1)}$',1757,200),
                (r'$\mathbf{(110)}$',1835,421),
                (r'$\mathbf{<1\;\overline{1}\;0>}$',1384,488)]
logo_strokes = [[(12,10),(28,18),(38,18),(57,8)],[(33,0),(37,17)],[(28,18),(36,28),(45,25),(38,18)],[(0,10),(2,30)],
                [(120,10),(133,5),(147,12),(167,20)],[(140,10),(138,37)],[(133,13),(123,27)],[(103,25),(102,43)],
                [(87,40),(103,47),(113,53)],[(113,50),(127,45),(147,50)],[(168,38),(168,53)],[(197,47),(213,53),(240,45)],
                [(213,37),(213,53)],[(260,50),(287,43),(307,33)],[(280,43),(290,53)],[(23,42),(28,48)],[(57,45),(57,53)]]

GREEN = '#3fa87a'
BLUE = '#1b2a82'
LOGO = '#e5e2d2'


def frame(ax, xlim, ylim, xt, yt, inner_x, inner_y):
    ax.set_xlim(*xlim)
    ax.set_ylim(*ylim)
    for s in ax.spines.values():
        s.set_linewidth(2.2)
    ax.set_xticks(xt)
    ax.set_yticks(yt)
    ax.set_xticks(inner_x, minor=True)
    ax.set_yticks(inner_y, minor=True)
    ax.tick_params(which='major', direction='out', length=6, width=1.4, top=True, right=True, labelsize=15.5, pad=7, labelcolor='#222222')
    ax.tick_params(axis='x', which='minor', direction='in', length=13, width=1, color='#555555', top=True)
    ax.tick_params(axis='y', which='minor', direction='in', length=8, width=1, color='#555555', right=True)


def blob(ax, pts):
    p = np.array(pts)
    # uneven dashes keep the edge of a dense cloud from looking cut out
    ax.fill(p[:, 0], p[:, 1], facecolor='black', edgecolor='black', lw=3,
            ls=(0, (0.5, 0.5, 1.4, 0.8, 0.7, 1.1, 2.0, 0.6)), zorder=2)


def dots(ax, pts, color='black', s=13):
    p = np.array(pts)
    ax.scatter(p[:, 0], p[:, 1], s=s, c=color, marker='o', linewidths=0, zorder=3)


def px_axes(l, t, r, b):
    return fig.add_axes([l / W, 1 - b / H, (r - l) / W, (b - t) / H])


fig = plt.figure(figsize=(W / 100, H / 100), dpi=100)

axa = px_axes(79.5, 97, 653, 672)
frame(axa, (-1.83, 4.16), (-3, 2.98), range(-1, 5), range(-3, 3), a_inner_x, a_inner_y)
for b in [a_blob_main, a_blob_2, a_blob_3]:
    blob(axa, b)
for pts in [a_top, a_left, a_left_2, a_mid, a_mid_2, a_right, a_right_2, a_bottom]:
    dots(axa, pts)
dots(axa, a_holes, color='white', s=14)

axb = px_axes(743, 92, 1316, 666)
frame(axb, (-1.05, 7.92), (-3, 6), range(-1, 8), range(-3, 6), b_inner_x, b_inner_y)
for b in [b_blob_main, b_blob_1, b_blob_tail, b_blob_2, b_blob_3, b_blob_4]:
    blob(axb, b)
dots(axb, b_far, s=9)
dots(axb, b_far_low, s=9)
dots(axb, b_mid, s=12)
dots(axb, b_mid_2, s=12)
dots(axb, b_holes, color='white', s=12)
axb.scatter(b_top_row, [5.87] * len(b_top_row), s=6, c='#333333', marker='s', linewidths=0, zorder=3)
for x0, x1 in b_top_bars:
    axb.plot([x0, x1], [5.87, 5.87], color='#666666', lw=2, zorder=3)

# overlay in picture pixels
over = fig.add_axes([0, 0, 1, 1], facecolor='none')
over.set_xlim(0, W)
over.set_ylim(H, 0)
over.axis('off')

for s in logo_strokes:
    s = np.array(s)
    over.plot(s[:, 0], s[:, 1], color=LOGO, lw=2.5, solid_capstyle='butt')

over.text(59, 82, '(a)', fontsize=20, ha='center', va='center', color='#222222')
over.text(722, 77, '(b)', fontsize=20, ha='center', va='center', color='#222222')
over.text(132, 145, '(a)', fontsize=39, ha='center', va='center', color=BLUE, family='Open Sans')
over.text(1252, 145, '(b)', fontsize=39, ha='center', va='center', color=BLUE, family='Open Sans')
over.text(234, 25, 'planes of 450 GeV protons (H8-SPS CERN)', fontsize=32, ha='left', va='baseline', color='black')

over.text(368, 740, 'angle (mrad)', fontsize=21, ha='center', va='center', color='#222222')
over.text(25, 404, 'angle (mrad)', fontsize=21, ha='center', va='center', rotation=90, color='#222222')
over.text(1030, 735, 'angle (mrad)', fontsize=21, ha='center', va='center', color='#222222')
over.text(689, 392, 'angle (mrad)', fontsize=21, ha='center', va='center', rotation=90, color='#222222')

for tip in arrow_tips:
    over.annotate('', xy=tip, xytext=arrow_from,
                  arrowprops=dict(width=4.6, headwidth=16, headlength=17, color=GREEN, lw=0, shrink=0))

for end, lw in zip(plane_ends, plane_widths):
    over.plot([plane_origin[0], end[0]], [plane_origin[1], end[1]], color='black', lw=lw, solid_capstyle='butt')
for txt, x, y in plane_labels:
    over.text(x, y, txt, fontsize=23, ha='center', va='center', color='#111111')

fig.savefig('out.png', dpi=100)
